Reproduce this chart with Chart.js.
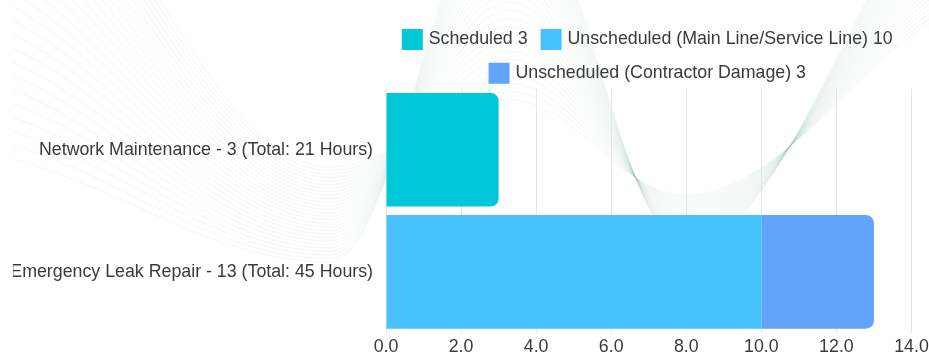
<!DOCTYPE html>
<html>
<head>
<meta charset="utf-8">
<script src="https://cdn.jsdelivr.net/npm/chart.js@4"></script>
<style>
  html, body { margin: 0; padding: 0; background: #ffffff; overflow: hidden; }
  #wrap { position: absolute; left: 0; top: 0; width: 929px; height: 356px; overflow: hidden; }
  canvas { display: block; clip-path: inset(0 0 0 13px); }
</style>
</head>
<body>
<div id="wrap"><canvas id="chart" width="929" height="361"></canvas></div>
<script>
// Work order categories (y axis)
const categories = [
  'Network Maintenance - 3 (Total: 21 Hours)',
  'Emergency Leak Repair - 13 (Total: 45 Hours)'
];

// Series names as shown in the legend
const seriesNames = [
  'Scheduled 3',
  'Unscheduled (Main Line/Service Line) 10',
  'Unscheduled (Contractor Damage) 3'
];

// Work order counts per category
const scheduled = [3, 0];
const unscheduledMainLine = [0, 10];
const unscheduledContractor = [0, 3];

// Value axis range
const axisMin = 0;
const axisMax = 14;
const axisStep = 2;

const FONT = { family: '"Liberation Sans", Arial, sans-serif', size: 17.8 };
const TEXT_COLOR = '#3a3a3a';

// Faint wave lines painted behind the chart: each line eases between
// alternating crests and troughs.
function waveLine(t) {
  return [
    [-60, 150 - t * 400],
    [330, 262 - t * 95],
    [510, -120 + t * 220],
    [685, 245 - t * 50],
    [1000, -150 + t * 150]
  ];
}

const waveBackdrop = {
  id: 'waveBackdrop',
  beforeDraw(chart) {
    const ctx = chart.ctx;
    ctx.save();
    ctx.lineWidth = 0.7;
    ctx.strokeStyle = 'rgba(140, 182, 174, 0.16)';
    const n = 28;
    for (let k = 0; k < n; k++) {
      const pts = waveLine(k / (n - 1));
      ctx.beginPath();
      let first = true;
      for (let x = 0; x <= 935; x += 3) {
        let i = 0;
        while (i < pts.length - 2 && x > pts[i + 1][0]) i++;
        const [x0, y0] = pts[i], [x1, y1] = pts[i + 1];
        const s = (x - x0) / (x1 - x0);
        const y = y0 + (y1 - y0) * (1 - Math.cos(Math.PI * s)) / 2;
        if (first) { ctx.moveTo(x, y); first = false; } else ctx.lineTo(x, y);
      }
      ctx.stroke();
    }
    ctx.restore();
  }
};

const ctx = document.getElementById('chart').getContext('2d');
new Chart(ctx, {
  type: 'bar',
  data: {
    labels: categories,
    datasets: [
      { label: seriesNames[0], data: scheduled, backgroundColor: '#00c7d9' },
      { label: seriesNames[1], data: unscheduledMainLine, backgroundColor: '#47c2fd' },
      { label: seriesNames[2], data: unscheduledContractor, backgroundColor: '#62a4f9' }
    ]
  },
  options: {
    indexAxis: 'y',
    responsive: false,
    animation: false,
    devicePixelRatio: 1,
    layout: { padding: { top: 14.6, left: 0, right: 0, bottom: 0 } },
    datasets: {
      bar: {
        borderWidth: 0,
        borderRadius: 8,
        barPercentage: 1,
        categoryPercentage: 0.93
      }
    },
    plugins: {
      tooltip: { enabled: false },
      legend: {
        position: 'top',
        fullSize: false,
        maxHeight: 74,
        labels: {
          color: TEXT_COLOR,
          font: FONT,
          boxWidth: 15,
          boxHeight: 15,
          padding: 16,
          generateLabels(chart) {
            const items = Chart.defaults.plugins.legend.labels.generateLabels(chart);
            items.forEach(it => {
              it.lineWidth = 6;
              it.strokeStyle = it.fillStyle;
              it.lineJoin = 'miter';
            });
            return items;
          }
        }
      }
    },
    scales: {
      x: {
        stacked: true,
        min: axisMin,
        max: axisMax,
        grid: { color: '#e4e6e6', drawTicks: false },
        border: { display: false },
        ticks: {
          stepSize: axisStep,
          padding: 6,
          color: TEXT_COLOR,
          font: Object.assign({}, FONT, { lineHeight: 0.9 }),
          callback: v => Number(v).toFixed(1)
        },
        afterFit(scale) { scale.paddingRight = 17.5; }
      },
      y: {
        stacked: true,
        grid: { display: false, drawTicks: false },
        border: { display: false },
        ticks: { padding: 13, color: TEXT_COLOR, font: FONT },
        afterFit(scale) { scale.width = 386; }
      }
    }
  },
  plugins: [waveBackdrop]
});
</script>
</body>
</html>
